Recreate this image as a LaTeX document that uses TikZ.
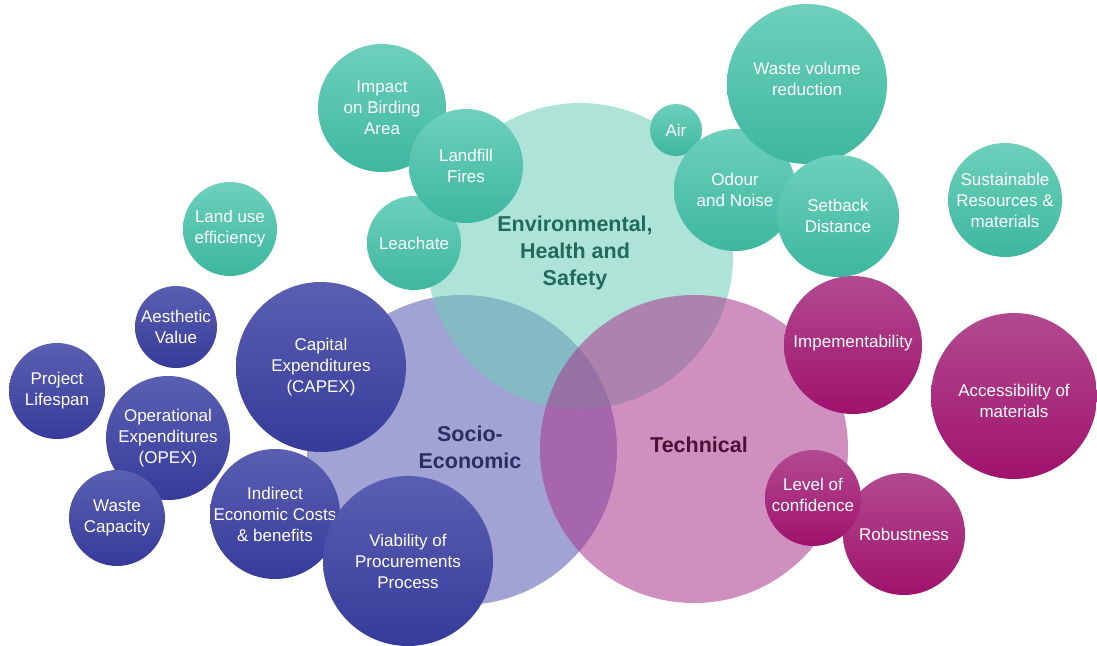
\documentclass[tikz,border=0pt]{standalone}
\usepackage{fontspec}
\setmainfont{Liberation Sans}
\definecolor{envbig}{HTML}{6CCCB8}
\definecolor{socbig}{HTML}{5258AF}
\definecolor{techbig}{HTML}{A9348B}
\definecolor{envtop}{HTML}{6DD0BC}
\definecolor{envbot}{HTML}{3DB79E}
\definecolor{soctop}{HTML}{5B5FB2}
\definecolor{socbot}{HTML}{363B9A}
\definecolor{techtop}{HTML}{B24A90}
\definecolor{techbot}{HTML}{A0126D}
\definecolor{envtxt}{HTML}{226B5C}
\definecolor{soctxt}{HTML}{2B2E63}
\definecolor{techtxt}{HTML}{4B1038}
\begin{document}
\begin{tikzpicture}[x=1pt,y=-1pt,
    big/.style={circle,inner sep=0pt,fill opacity=0.55},
    bigtext/.style={align=center,font=\bfseries\fontsize{21.5}{27}\selectfont},
    envbub/.style={circle,inner sep=0pt,top color=envtop,bottom color=envbot},
    socbub/.style={circle,inner sep=0pt,top color=soctop,bottom color=socbot},
    techbub/.style={circle,inner sep=0pt,top color=techtop,bottom color=techbot},
    bubtext/.style={align=center,text=white,font=\fontsize{17}{21}\selectfont}]
  \useasboundingbox (0,0) rectangle (1097,645);
  % the three main groups
  \node[big,fill=socbig,minimum size=310pt] (socio) at (462,450) {};
  \node[big,fill=envbig,minimum size=306pt] (env) at (580,256) {};
  \node[big,fill=techbig,minimum size=308pt] (tech) at (694,449) {};
  %
  % environmental, health and safety
  \node[envbub,minimum size=128pt] (birding) at (382,108) {};
  \node[bubtext] (birding-t) at (birding) {Impact\\on Birding\\Area};
  \node[envbub,minimum size=94pt] (leachate) at (414,243) {};
  \node[bubtext] (leachate-t) at (leachate) {Leachate};
  \node[envbub,minimum size=114pt] (fires) at (466,166) {};
  \node[bubtext] (fires-t) at (fires) {Landfill\\Fires};
  \node[envbub,minimum size=94pt] (landuse) at (230,229) {};
  \node[bubtext] (landuse-t) at (landuse) {Land use\\efficiency};
  \node[envbub,minimum size=52pt] (air) at (676,130) {};
  \node[bubtext] (air-t) at (air) {Air};
  \node[envbub,minimum size=122pt] (odour) at (735,190) {};
  \node[bubtext] (odour-t) at (odour) {Odour\\and Noise};
  \node[envbub,minimum size=160pt] (volume) at (807,84) {};
  \node[bubtext] (volume-t) at (807,79) {Waste volume\\reduction};
  \node[envbub,minimum size=122pt] (setback) at (838,216) {};
  \node[bubtext] (setback-t) at (setback) {Setback\\Distance};
  \node[envbub,minimum size=114pt] (sustain) at (1005,200) {};
  \node[bubtext] (sustain-t) at (sustain) {Sustainable\\Resources \&\\materials};
  %
  % socio-economic
  \node[socbub,minimum size=82pt] (aesthetic) at (176,327) {};
  \node[bubtext] (aesthetic-t) at (aesthetic) {Aesthetic\\Value};
  \node[socbub,minimum size=96pt] (lifespan) at (57,391) {};
  \node[bubtext] (lifespan-t) at (lifespan) {Project\\Lifespan};
  \node[socbub,minimum size=170pt] (capex) at (321,367) {};
  \node[bubtext] (capex-t) at (capex) {Capital\\Expenditures\\(CAPEX)};
  \node[socbub,minimum size=124pt] (opex) at (168,438) {};
  \node[bubtext] (opex-t) at (opex) {Operational\\Expenditures\\(OPEX)};
  \node[socbub,minimum size=96pt] (capacity) at (117,518) {};
  \node[bubtext] (capacity-t) at (capacity) {Waste\\Capacity};
  \node[socbub,minimum size=130pt] (indirect) at (275,514) {};
  \node[bubtext] (indirect-t) at (indirect) {Indirect\\Economic Costs\\\& benefits};
  \node[socbub,minimum size=170pt] (procure) at (408,561) {};
  \node[bubtext] (procure-t) at (408,561) {Viability of\\Procurements\\Process};
  %
  % technical
  \node[techbub,minimum size=138pt] (implement) at (853,345) {};
  \node[bubtext] (implement-t) at (853,343) {Impementability};
  \node[techbub,minimum size=166pt] (access) at (1014,396) {};
  \node[bubtext] (access-t) at (1014,401) {Accessibility of\\materials};
  \node[techbub,minimum size=122pt] (robust) at (904,534) {};
  \node[bubtext] (robust-t) at (robust) {Robustness};
  \node[techbub,minimum size=96pt] (confidence) at (813,498) {};
  \node[bubtext] (confidence-t) at (813,495) {Level of\\confidence};
  %
  % group titles
  \node[bigtext,text=envtxt] (env-t) at (575,253) {Environmental,\\Health and\\Safety};
  \node[bigtext,text=soctxt] (socio-t) at (470,447) {Socio-\\Economic};
  \node[bigtext,text=techtxt] (tech-t) at (699,445) {Technical};
\end{tikzpicture}
\end{document}
